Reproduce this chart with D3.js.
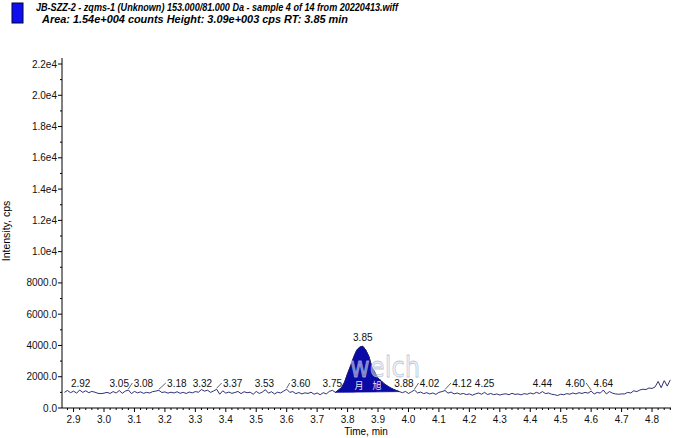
<!DOCTYPE html>
<html><head><meta charset="utf-8">
<script src="https://cdn.jsdelivr.net/npm/d3@7"></script>
<style>body{margin:0;background:#fff}svg{display:block;font-family:"Liberation Sans",Arial,sans-serif}</style>
</head><body>
<svg id="c" width="676" height="438"></svg>
<script>
const titleLine1 = "JB-SZZ-2 - zqms-1 (Unknown) 153.000/81.000 Da - sample 4 of 14 from 20220413.wiff";
const titleLine2 = "Area: 1.54e+004 counts  Height: 3.09e+003 cps  RT: 3.85 min";
const xTitle = "Time, min";
const yTitle = "Intensity, cps";
const xTicks = [2.9,3.0,3.1,3.2,3.3,3.4,3.5,3.6,3.7,3.8,3.9,4.0,4.1,4.2,4.3,4.4,4.5,4.6,4.7,4.8];
const yTicks = [0,2000,4000,6000,8000,10000,12000,14000,16000,18000,20000,22000];
const yTickLabels = ["0.0","2000.0","4000.0","6000.0","8000.0","1.0e4","1.2e4","1.4e4","1.6e4","1.8e4","2.0e4","2.2e4"];

const times = [2.87,2.88,2.89,2.90,2.91,2.92,2.93,2.94,2.95,2.96,2.97,2.98,2.99,
3.00,3.01,3.02,3.03,3.04,3.05,3.06,3.07,3.08,3.09,3.10,3.11,3.12,3.13,3.14,3.15,3.16,3.17,3.18,3.19,
3.20,3.21,3.22,3.23,3.24,3.25,3.26,3.27,3.28,3.29,3.30,3.31,3.32,3.33,3.34,3.35,3.36,3.37,3.38,3.39,
3.40,3.41,3.42,3.43,3.44,3.45,3.46,3.47,3.48,3.49,3.50,3.51,3.52,3.53,3.54,3.55,3.56,3.57,3.58,3.59,
3.60,3.61,3.62,3.63,3.64,3.65,3.66,3.67,3.68,3.69,3.70,3.71,3.72,3.73,3.74,3.75,3.76,3.77,3.78,3.79,
3.80,3.81,3.82,3.83,3.84,3.85,3.86,3.87,3.88,3.89,3.90,3.91,3.92,3.93,3.94,3.95,3.96,3.97,3.98,3.99,
4.00,4.01,4.02,4.03,4.04,4.05,4.06,4.07,4.08,4.09,4.10,4.11,4.12,4.13,4.14,4.15,4.16,4.17,4.18,4.19,
4.20,4.21,4.22,4.23,4.24,4.25,4.26,4.27,4.28,4.29,4.30,4.31,4.32,4.33,4.34,4.35,4.36,4.37,4.38,4.39,
4.40,4.41,4.42,4.43,4.44,4.45,4.46,4.47,4.48,4.49,4.50,4.51,4.52,4.53,4.54,4.55,4.56,4.57,4.58,4.59,
4.60,4.61,4.62,4.63,4.64,4.65,4.66,4.67,4.68,4.69,4.70,4.71,4.72,4.73,4.74,4.75,4.76,4.77,4.78,4.79,
4.80,4.81,4.82,4.83,4.84,4.85,4.86];
const intensity = [1000,1120,980,1080,950,1150,1000,1100,980,1060,1010,940,920,
950,1000,930,1050,960,1120,940,1080,1150,920,1060,970,1030,940,1000,960,1050,1080,1130,990,
1030,950,1010,960,1040,940,1000,930,1020,970,1050,1010,1180,1080,1140,1000,1090,1200,880,1100,
950,1020,940,990,1060,920,1040,980,1010,880,1060,930,1020,1170,950,1040,900,1010,960,1080,
1200,1000,1050,920,990,900,970,930,1010,880,960,850,980,900,1060,1130,1000,1150,1300,1650,
2200,2700,3250,3700,3900,3950,3700,3300,2600,2250,1900,1750,1550,1420,1300,1200,1120,1050,980,1060,
930,1040,1150,960,1020,920,980,900,960,870,1000,1050,1120,950,1020,900,960,880,930,860,
900,820,900,960,880,1000,860,930,850,900,830,880,910,850,940,870,900,840,920,880,
960,900,1000,930,1050,920,960,880,850,800,880,850,920,880,960,900,980,930,1000,950,
1080,900,1000,950,1150,900,1050,950,900,880,900,900,1000,960,1100,1050,1150,1200,1180,1280,
1250,1350,1700,1300,1750,1400,1800];

const peakStart = [3.76, 1000];
const peakEnd = [3.97, 1050];

const peakLabels = ["2.92","3.05","3.08","3.18","3.32","3.37","3.53","3.60","3.75","3.85","3.88","4.02","4.12","4.25","4.44","4.60","4.64"];
const peakTimes = [2.92,3.05,3.08,3.18,3.32,3.37,3.53,3.60,3.75,3.85,3.88,4.02,4.12,4.25,4.44,4.60,4.64];
const labelDx = [1,0,15,18,1,16,-1,14,0,0,32,15,17,0,0,-16,0];
const hasLeader = [0,0,1,1,0,1,0,1,0,0,0,1,1,0,0,1,0];

const svg = d3.select("#c");
const x = d3.scaleLinear().domain([2.862, 4.859]).range([62, 670]);
const y = d3.scaleLinear().domain([0, 22000]).range([408, 64]);

// legend swatch + header
svg.append("rect").attr("x",12).attr("y",3).attr("width",11).attr("height",20)
  .attr("fill","#1010ee").attr("stroke","#000040").attr("stroke-width",1);
svg.append("text").attr("x",36).attr("y",11).attr("font-size",11).attr("font-weight","bold")
  .attr("font-style","italic").attr("textLength",362).attr("lengthAdjust","spacingAndGlyphs").text(titleLine1);
svg.append("text").attr("x",42).attr("y",23).attr("font-size",11).attr("font-weight","bold")
  .attr("font-style","italic").attr("textLength",306).attr("lengthAdjust","spacingAndGlyphs").text(titleLine2);

// axes
const gy = svg.append("g").attr("transform","translate(62,0)");
gy.append("line").attr("y1",58).attr("y2",408).attr("stroke","#000");
gy.selectAll(".mj").data(yTicks).join("line").attr("x1",-4).attr("x2",0)
  .attr("y1",d=>y(d)).attr("y2",d=>y(d)).attr("stroke","#000");
gy.selectAll(".mn").data(yTicks.slice(0,-1).map(d=>d+1000)).join("line").attr("x1",-2).attr("x2",0)
  .attr("y1",d=>y(d)).attr("y2",d=>y(d)).attr("stroke","#000");
gy.selectAll("text").data(yTicks).join("text").attr("x",-5).attr("y",d=>y(d)+3.5)
  .attr("text-anchor","end").attr("font-size",10).attr("fill","#111").text((d,i)=>yTickLabels[i]);

const gx = svg.append("g").attr("transform","translate(0,408)");
gx.append("line").attr("x1",62).attr("x2",671).attr("stroke","#000");
const minorX = d3.range(2.88, 4.86, 0.02).filter(v=>Math.abs(Math.round(v*10)-v*10)>0.01);
gx.selectAll(".mn").data(minorX).join("line").attr("x1",d=>x(d)).attr("x2",d=>x(d))
  .attr("y1",0).attr("y2",2).attr("stroke","#000");
gx.selectAll(".mj").data(xTicks).join("line").attr("x1",d=>x(d)).attr("x2",d=>x(d))
  .attr("y1",0).attr("y2",4).attr("stroke","#000");
gx.selectAll("text").data(xTicks).join("text").attr("x",d=>x(d)).attr("y",15)
  .attr("text-anchor","middle").attr("font-size",10).attr("fill","#111").text(d=>d.toFixed(1));

svg.append("text").attr("x",366).attr("y",435).attr("text-anchor","middle").attr("font-size",10).text(xTitle);
svg.append("text").attr("transform","translate(10,231) rotate(-90)").attr("text-anchor","middle")
  .attr("font-size",10.5).text(yTitle);

// peak fill
const data = times.map((t,i)=>[t,intensity[i]]);
const inPeak = data.filter(d=>d[0]>=peakStart[0]-1e-9 && d[0]<=peakEnd[0]+1e-9);
const base = d3.scaleLinear().domain([peakStart[0],peakEnd[0]]).range([peakStart[1],peakEnd[1]]);
svg.append("path").datum(inPeak)
  .attr("d", d3.area().x(d=>x(d[0])).y0(d=>y(base(d[0]))).y1(d=>y(d[1])))
  .attr("fill","#0a0aa6").attr("stroke","#0a0aa6").attr("stroke-width",0.8);

// trace
svg.append("path").datum(data).attr("d", d3.line().x(d=>x(d[0])).y(d=>y(d[1])))
  .attr("fill","none").attr("stroke","#1a1a66").attr("stroke-width",0.9);

// watermark
svg.append("text").attr("x",350).attr("y",377).attr("font-size",28)
  .attr("font-family","DejaVu Sans, sans-serif").attr("textLength",70).attr("lengthAdjust","spacingAndGlyphs")
  .attr("fill","rgba(225,232,245,0.55)").attr("stroke","rgba(170,185,210,0.75)").attr("stroke-width",0.8)
  .text("welch");
svg.append("text").attr("x",368).attr("y",389).attr("text-anchor","middle").attr("font-size",9)
  .attr("font-family","Noto Sans CJK SC").attr("fill","rgba(255,255,255,0.9)").text("月　旭");

// peak labels
const lab = svg.append("g");
peakLabels.forEach((s,i)=>{
  const t = peakTimes[i];
  const v = intensity[times.findIndex(q=>Math.abs(q-t)<1e-9)];
  const px = x(t), py = y(v);
  const ly = (s==="3.85") ? py-5 : 387;
  if (hasLeader[i]) {
    const lx = px + labelDx[i] + (labelDx[i]>0 ? -11 : 11);
    lab.append("line").attr("x1",px).attr("y1",py-1).attr("x2",lx).attr("y2",ly-4)
      .attr("stroke","#222").attr("stroke-width",0.7);
  }
  lab.append("text").attr("x",px+labelDx[i]).attr("y",ly).attr("text-anchor","middle")
    .attr("font-size",10).attr("fill","#111").text(s);
});
</script>
</body></html>
